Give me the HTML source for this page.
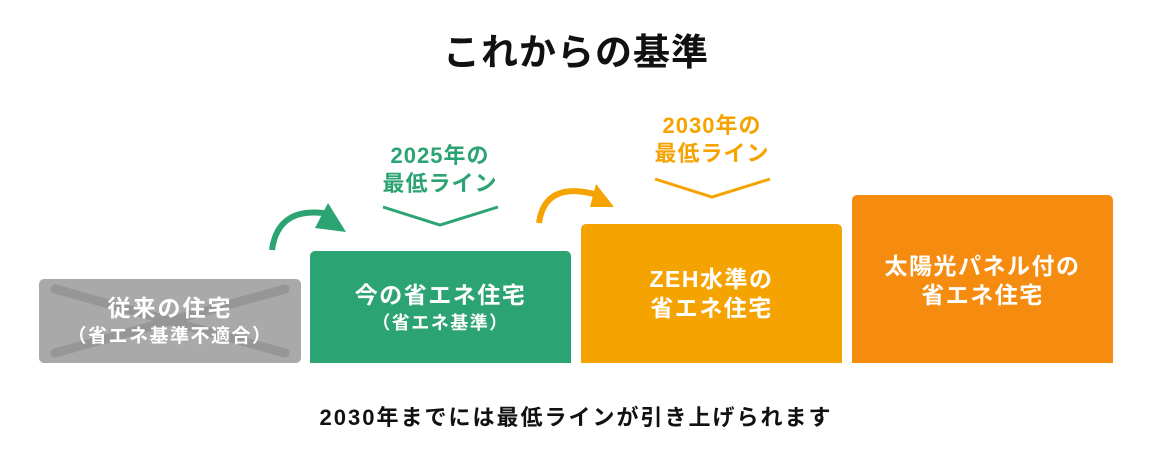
<!DOCTYPE html>
<html><head><meta charset="utf-8"><style>
body{margin:0;width:1152px;height:456px;background:#fff;position:relative;overflow:hidden;font-family:"Liberation Sans","Noto Sans CJK JP",sans-serif;font-weight:bold}
.t{position:absolute;text-align:center;white-space:nowrap}
.box{position:absolute;border-radius:5px 5px 0 0;color:#fff;text-align:center;display:flex;flex-direction:column;justify-content:center;align-items:center;letter-spacing:1.5px}
</style></head><body>
<div class="t" style="left:0;width:1152px;top:22px;font-size:37px;color:#111;letter-spacing:1px">これからの基準</div>
<svg width="1152" height="456" style="position:absolute;left:0;top:0">
<rect x="39" y="279" width="262" height="84" rx="5" fill="#a9a9a9"/>
<line x1="55" y1="289" x2="285" y2="353" stroke="#969696" stroke-width="9" stroke-linecap="round"/>
<line x1="55" y1="353" x2="285" y2="289" stroke="#969696" stroke-width="9" stroke-linecap="round"/>
<path d="M272 250 Q278 205 330 214" fill="none" stroke="#2ba373" stroke-width="6"/>
<polygon points="328,203 346,232 315,228" fill="#2ba373"/>
<path d="M539 223 Q545 180 598 195" fill="none" stroke="#f5a300" stroke-width="6"/>
<polygon points="596,184 614,207 590,207" fill="#f5a300"/>
<polyline points="383,207 440,225 498,207" fill="none" stroke="#2ba373" stroke-width="3"/>
<polyline points="655,179 712,197 770,179" fill="none" stroke="#f5a300" stroke-width="3"/>
</svg>
<div class="box" style="left:39px;top:279px;width:262px;height:84px;background:transparent"><div style="font-size:23px;line-height:32px;letter-spacing:2px">従来の住宅</div><div style="font-size:19px;line-height:26px">（省エネ基準不適合）</div></div>
<div class="box" style="left:310px;top:251px;width:261px;height:112px;background:#2ba373"><div style="font-size:23px;line-height:32px">今の省エネ住宅</div><div style="font-size:18px;line-height:24px">（省エネ基準）</div></div>
<div class="box" style="left:581px;top:224px;width:261px;height:139px;background:#f5a300;font-size:23px;line-height:29px"><div>ZEH水準の</div><div>省エネ住宅</div></div>
<div class="box" style="left:852px;top:195px;width:261px;height:168px;background:#f58c10;font-size:23px;line-height:29px;justify-content:flex-start;padding-top:57px;box-sizing:border-box"><div>太陽光パネル付の</div><div>省エネ住宅</div></div>
<div class="t" style="left:340px;width:200px;top:142px;font-size:22px;line-height:28px;color:#2ba373;letter-spacing:1px">2025年の<br>最低ライン</div>
<div class="t" style="left:612px;width:200px;top:112px;font-size:22px;line-height:28px;color:#f5a300;letter-spacing:1px">2030年の<br>最低ライン</div>
<div class="t" style="left:0;width:1152px;top:400px;font-size:22px;color:#111;letter-spacing:2px">2030年までには最低ラインが引き上げられます</div>
</body></html>
